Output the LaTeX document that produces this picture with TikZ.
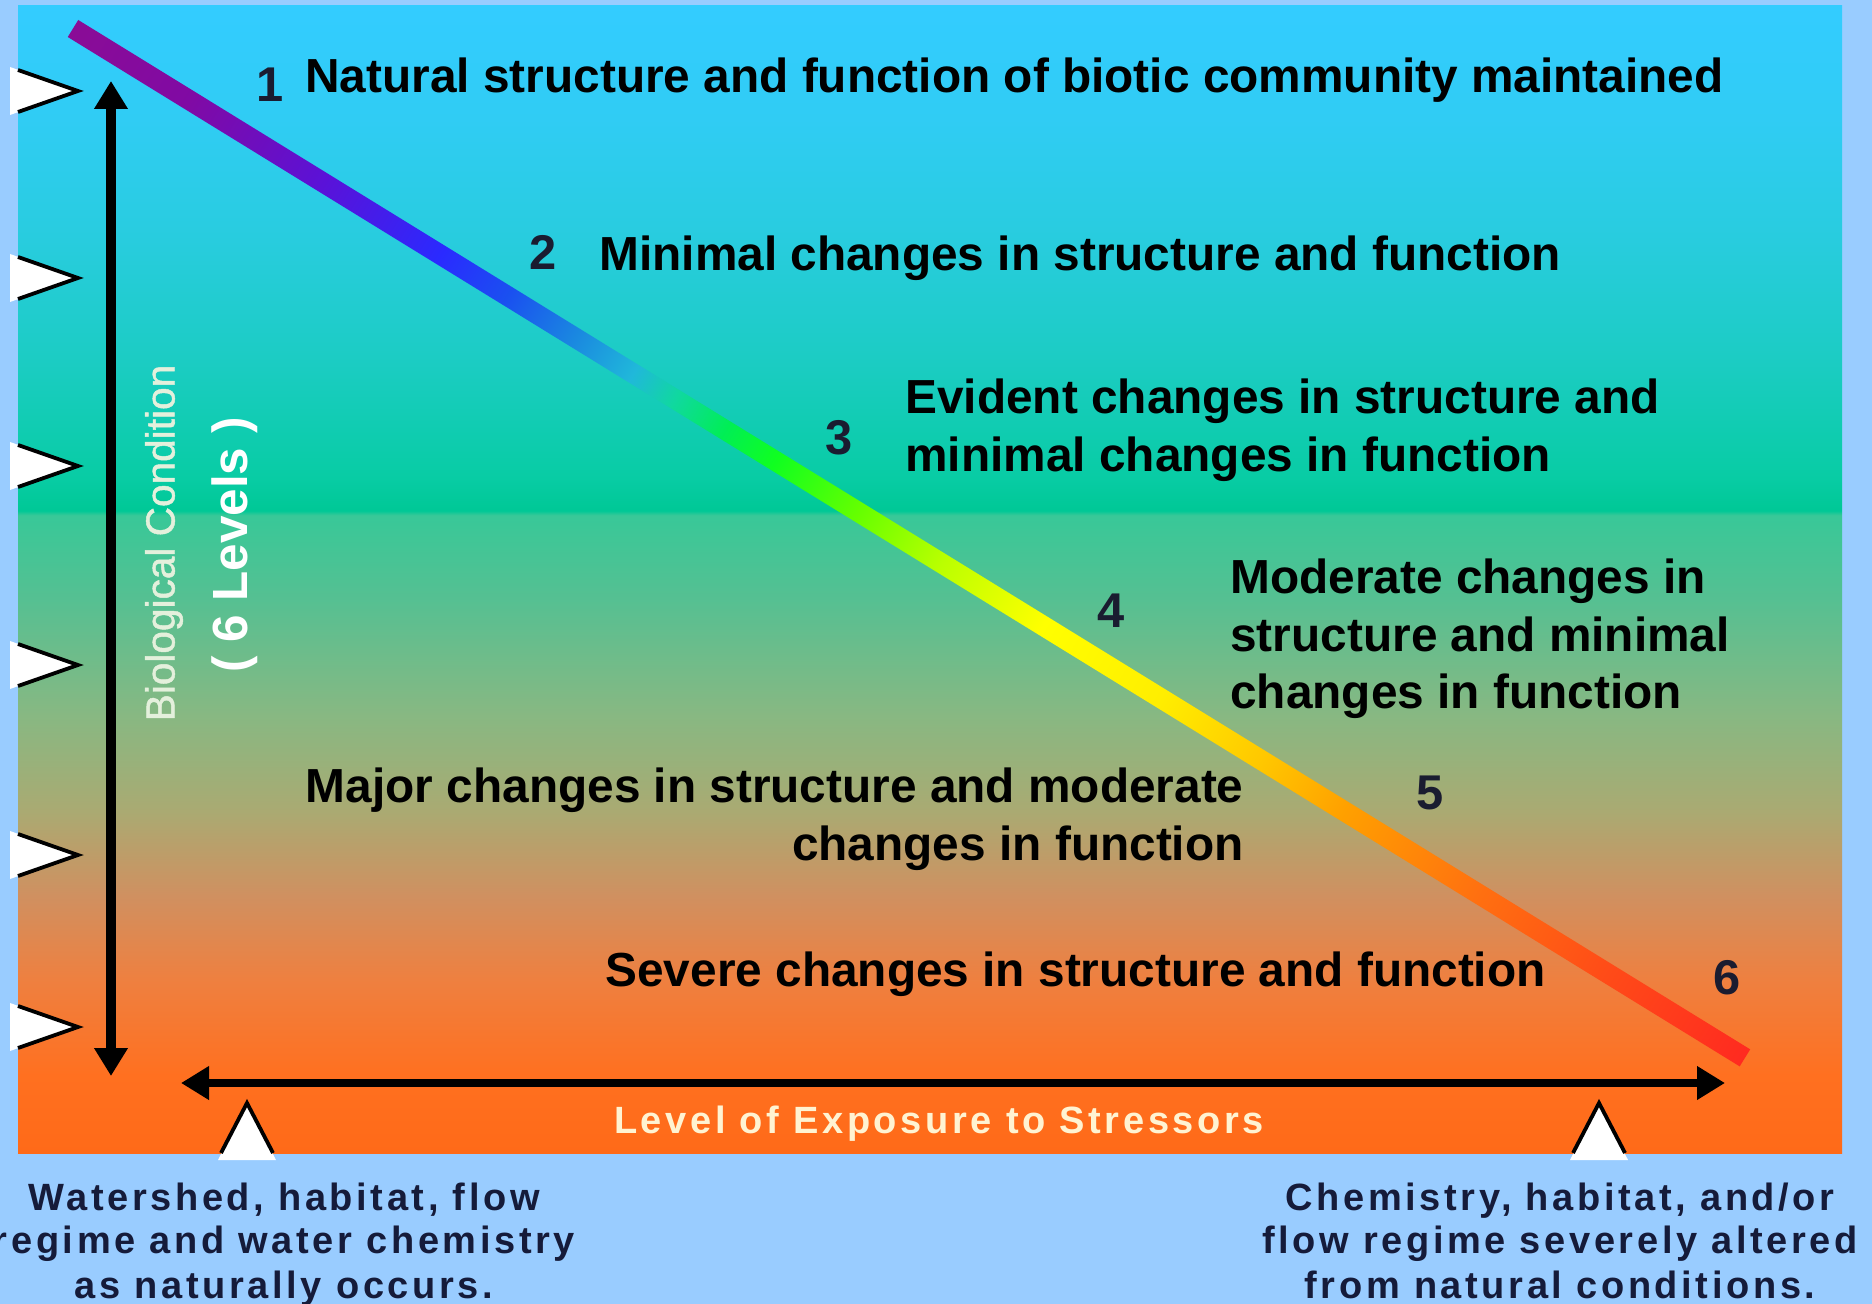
\documentclass[tikz,border=0pt]{standalone}
\usepackage{fontspec}
\setmainfont{Liberation Sans}
\newfontfamily\spacedfont{Liberation Sans}[LetterSpace=9.5]
\newfontfamily\biofont{Liberation Sans}[FakeBold=1.2]
\usetikzlibrary{arrows.meta}

% page and panel colours
\definecolor{pagebg}{HTML}{99CCFF}
\definecolor{numnavy}{HTML}{1A1C30}
\definecolor{capnavy}{HTML}{151B3A}
\definecolor{biotext}{HTML}{E4F0DC}
\definecolor{axiscream}{HTML}{FFF3D2}

% vertical panel gradient (bottom to top)
\definecolor{pA}{HTML}{FF6A18}
\definecolor{pB}{HTML}{FF7020}
\definecolor{pC}{HTML}{EE8040}
\definecolor{pD}{HTML}{D09060}
\definecolor{pE}{HTML}{AAAA72}
\definecolor{pF}{HTML}{88B882}
\definecolor{pG}{HTML}{55C092}
\definecolor{pH}{HTML}{38C898}
\definecolor{pI}{HTML}{00C896}
\definecolor{pJ}{HTML}{08CCA4}
\definecolor{pK}{HTML}{1CCCC4}
\definecolor{pL}{HTML}{28CCDE}
\definecolor{pM}{HTML}{30CCF4}
\definecolor{pN}{HTML}{33CCFF}
\pgfdeclareverticalshading{panelshade}{100bp}{%
  color(0bp)=(pA); color(25bp)=(pA); color(28.4bp)=(pB); color(32.6bp)=(pC);
  color(36.2bp)=(pD); color(39.9bp)=(pE); color(44.05bp)=(pF); color(49.2bp)=(pG);
  color(52.8bp)=(pH); color(53.0bp)=(pI); color(54.4bp)=(pJ); color(59.7bp)=(pK);
  color(64.8bp)=(pL); color(70.1bp)=(pM); color(75bp)=(pN); color(100bp)=(pN)}

% rainbow along the condition line (start to end)
\definecolor{r00}{HTML}{8A0C96}
\definecolor{r01}{HTML}{800AA4}
\definecolor{r02}{HTML}{5A12D8}
\definecolor{r03}{HTML}{2A2AFF}
\definecolor{r04}{HTML}{1A50F0}
\definecolor{r05}{HTML}{1A88E0}
\definecolor{r06}{HTML}{20B8DA}
\definecolor{r07}{HTML}{10D8A0}
\definecolor{r08}{HTML}{00EE55}
\definecolor{r09}{HTML}{10FF20}
\definecolor{r10}{HTML}{66FF00}
\definecolor{r11}{HTML}{BBFF00}
\definecolor{r12}{HTML}{FFFF00}
\definecolor{r13}{HTML}{FFEE00}
\definecolor{r14}{HTML}{FFC800}
\definecolor{r15}{HTML}{FFA000}
\definecolor{r16}{HTML}{FF7010}
\definecolor{r17}{HTML}{FF4A18}
\definecolor{r18}{HTML}{FF2A20}
\pgfdeclarehorizontalshading{rainbowline}{100bp}{%
  color(0bp)=(r00); color(25bp)=(r00); color(28.5bp)=(r01); color(32.5bp)=(r02);
  color(36bp)=(r03); color(38bp)=(r04); color(40bp)=(r05); color(41.75bp)=(r06);
  color(43bp)=(r07); color(44.5bp)=(r08); color(46bp)=(r09); color(48.5bp)=(r10);
  color(51bp)=(r11); color(54bp)=(r12); color(57.5bp)=(r13); color(60.5bp)=(r14);
  color(63bp)=(r15); color(67bp)=(r16); color(71bp)=(r17); color(75bp)=(r18);
  color(100bp)=(r18)}

\begin{document}
\begin{tikzpicture}[x=0.5pt,y=-0.5pt,
  lvl/.style={font=\bfseries\fontsize{23.9}{28}\selectfont, text=black, inner sep=0pt},
  num/.style={font=\bfseries\fontsize{24.4}{28}\selectfont, text=numnavy, inner sep=0pt, anchor=base},
  note/.style={font=\spacedfont\bfseries\fontsize{19}{22}\selectfont, text=capnavy, inner sep=0pt, anchor=base},
  axisarrow/.style={line width=4.6pt, {Triangle[length=14pt,width=16pt]}-{Triangle[length=14pt,width=16pt]}},
  tribrd/.style={draw=black, line width=1.9pt, line join=miter}
]
\useasboundingbox (0,0) rectangle (1872,1304);
\fill[pagebg] (0,0) rectangle (1872,1304);

% gradient panel
\shade[shading=panelshade] (18,6) rectangle (1842,1153);

% level markers on the left edge
\foreach \ty in {91,278,466,665,855,1027} {
  \fill[white] (10,\ty-24) -- (78,\ty) -- (10,\ty+24) -- cycle;
  \draw[tribrd] (18,\ty-21) -- (78,\ty) -- (18,\ty+21);
}
% markers on the bottom edge
\foreach \tx in {247,1599} {
  \fill[white] (\tx-29,1160) -- (\tx,1103) -- (\tx+29,1160) -- cycle;
  \draw[tribrd] (\tx-26,1153) -- (\tx,1103) -- (\tx+26,1153);
}

% axes
\coordinate (vtop) at (111,81);
\coordinate (vbot) at (111,1076);
\coordinate (hleft) at (181,1083);
\coordinate (hright) at (1725,1083);
\draw[axisarrow] (vtop) -- (vbot);
\draw[axisarrow, line width=4pt] (hleft) -- (hright);

% rainbow condition line
\coordinate (diagstart) at (73,28.5);
\begin{scope}[transform canvas={shift={(diagstart)}, rotate=-31.62}]
  \shade[shading=rainbowline] (0,-10) rectangle (1963.5,10);
\end{scope}

% level numbers
\node[num] (n1) at (270,102) {1};
\node[num] (n2) at (543,270) {2};
\node[num] (n3) at (839,455) {3};
\node[num] (n4) at (1111,627) {4};
\node[num] (n5) at (1430,809) {5};
\node[num] (n6) at (1727,994) {6};

% level descriptions
\node[lvl, anchor=base west] (t1) at (305,93) {Natural structure and function of biotic community maintained};
\node[lvl, anchor=base west] (t2) at (599,271) {Minimal changes in structure and function};
\node[lvl, anchor=base west] (t3a) at (905,414) {Evident changes in structure and};
\node[lvl, anchor=base west] (t3b) at (905,472) {minimal changes in function};
\node[lvl, anchor=base west] (t4a) at (1230,593) {Moderate changes in};
\node[lvl, anchor=base west] (t4b) at (1230,651) {structure and minimal};
\node[lvl, anchor=base west] (t4c) at (1230,708) {changes in function};
\node[lvl, anchor=base east] (t5a) at (1244,802) {Major changes in structure and moderate};
\node[lvl, anchor=base east] (t5b) at (1244,860) {changes in function};
\node[lvl, anchor=base west] (t6) at (605,986) {Severe changes in structure and function};

% axis titles
\node[rotate=90, inner sep=0pt, text=biotext, font=\biofont\fontsize{20.3}{24}\selectfont] (ytitle) at (164,543) {Biological Condition};
\node[rotate=90, inner sep=0pt, text=white, font=\bfseries\fontsize{24.7}{28}\selectfont] (ysub) at (235,545) {( 6 Levels )};
\node[note, text=axiscream] (xtitle) at (939,1133) {Level of Exposure to Stressors};

% end-of-axis notes
\node[note] (la) at (284,1210) {Watershed, habitat, flow};
\node[note] (lb) at (284,1253) {regime and water chemistry};
\node[note] (lc) at (284,1298) {as naturally occurs.};
\node[note] (ra) at (1560,1210) {Chemistry, habitat, and/or};
\node[note] (rb) at (1560,1253) {flow regime severely altered};
\node[note] (rc) at (1560,1298) {from natural conditions.};
\end{tikzpicture}
\end{document}
